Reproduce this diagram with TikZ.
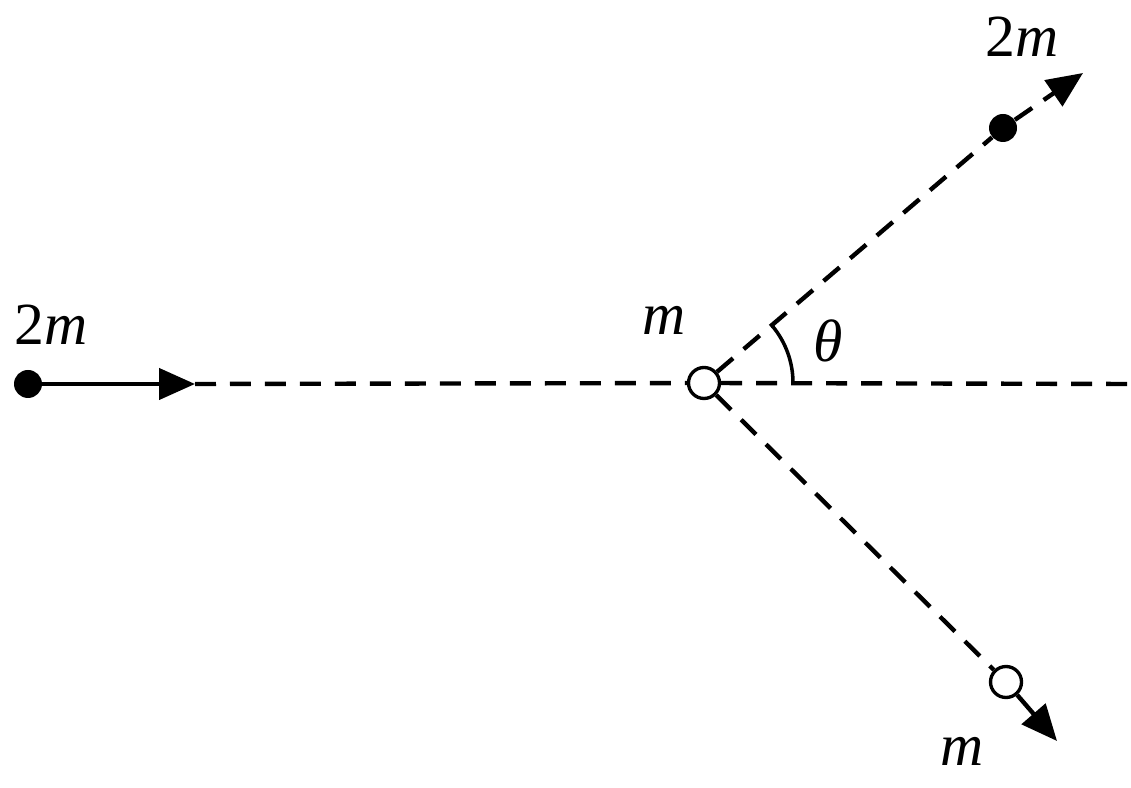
\documentclass[tikz,border=0pt]{standalone}
\usepackage{fontspec}
\setmainfont{Liberation Serif}
\usetikzlibrary{arrows.meta,positioning,calc}

\begin{document}
\begin{tikzpicture}[x=0.02cm, y=0.02cm,
    dot/.style={circle, fill=black, inner sep=0pt, minimum size=0.56cm},
    ring/.style={circle, draw, line width=1.9pt, fill=white, inner sep=0pt, minimum size=0.62cm},
    trail/.style={line width=2.5pt, dash pattern=on 0.42cm off 0.28cm},
    fwd/.style={line width=2.5pt, -{Triangle[length=0.72cm, width=0.62cm]}},
    lbl/.style={font=\fontsize{34}{40}\selectfont, inner sep=0pt, anchor=base}]
    \useasboundingbox (0,0) rectangle (1131,787);
    % free ends of the arrows
    \coordinate (ea) at (195,403);
    \coordinate (eh) at (1131,403);
    \coordinate (eb) at (1083,714);
    \coordinate (ec) at (1057,46);
    % the balls
    \node[dot] (a) at (28,403) {};
    \node[ring] (o) at (704,404) {};
    \node[dot] (b) at (1003,659) {};
    \node[ring] (c) at (1006,105) {};
    \draw[fwd] (a) -- (ea);
    \draw[trail] (ea) -- (o);
    \draw[trail] (o) -- (eh);
    \draw[trail] (o) -- (b);
    \draw[trail, fwd] (b) -- (eb);
    \draw[trail] (o) -- (c);
    \draw[fwd] (c) -- (ec);
    \draw[line width=2pt] ($(o.center)+(89,0)$) arc[start angle=0, end angle=40, radius=89];
    % labels
    \node[lbl] (lm) at (51,442) {2\textit{m}};
    \node[lbl] (um) at (1022,730) {2\textit{m}};
    \node[lbl] (om) at (664,452) {\textit{m}};
    \node[lbl] (th) at (828,425) {\textit{θ}};
    \node[lbl] (bm) at (962,22) {\textit{m}};
\end{tikzpicture}
\end{document}
